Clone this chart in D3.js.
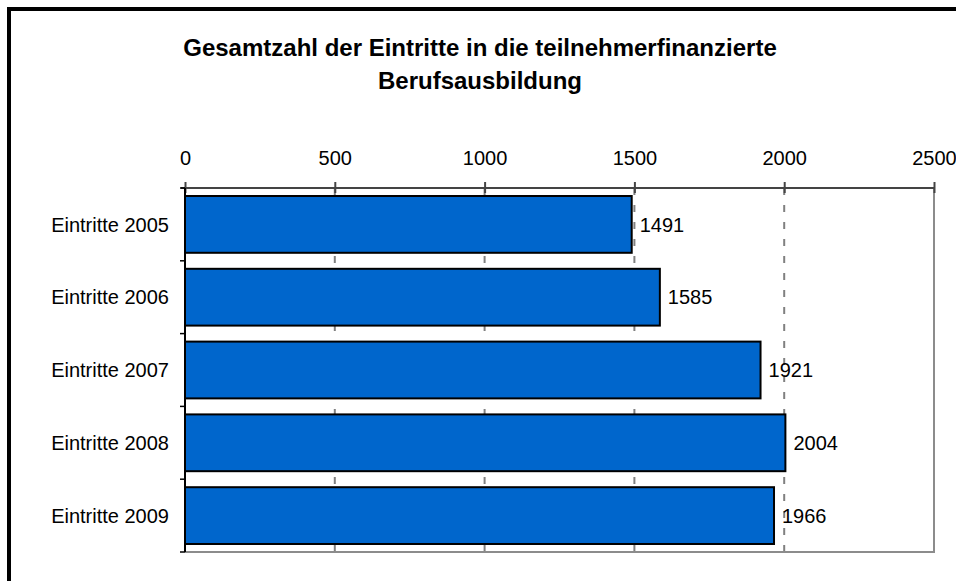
<!doctype html>
<html lang="de">
<head>
<meta charset="utf-8">
<title>Eintritte</title>
<script src="https://d3js.org/d3.v7.min.js"></script>
<style>
  body { margin: 0; background: #fff; }
  text { font-family: "Liberation Sans", Arial, sans-serif; }
</style>
</head>
<body>
<div id="main"></div>
<script>
const categories = ['Eintritte 2005', 'Eintritte 2006', 'Eintritte 2007', 'Eintritte 2008', 'Eintritte 2009']
const values = [1491, 1585, 1921, 2004, 1966]
const xTicks = [0, 500, 1000, 1500, 2000, 2500]
const titleLines = ['Gesamtzahl der Eintritte in die teilnehmerfinanzierte', 'Berufsausbildung']

const W = 956, H = 581
const plot = {left: 185, right: 934, top: 188, bottom: 552}

const svg = d3.select('#main').append('svg')
  .attr('width', W).attr('height', H)

// outer frame (only left + top edges visible)
svg.append('path')
  .attr('d', `M9,${H} L9,9 L${W},9`)
  .attr('fill', 'none').attr('stroke', '#000').attr('stroke-width', 4)

svg.append('text')
  .attr('x', 480).attr('text-anchor', 'middle')
  .style('font-size', '24px').style('font-weight', 'bold')
  .selectAll('tspan').data(titleLines).enter().append('tspan')
  .attr('x', 480).attr('y', (d, i) => 56 + i * 33)
  .text(d => d)

const x = d3.scaleLinear().domain([0, 2500]).range([plot.left, plot.right])
const y = d3.scaleBand().domain(categories).range([plot.top, plot.bottom])
  .paddingInner(0.22).paddingOuter(0.11)

// dashed gridlines
svg.append('g').selectAll('line').data(xTicks.slice(1, -1)).enter().append('line')
  .attr('x1', d => x(d)).attr('x2', d => x(d))
  .attr('y1', plot.top).attr('y2', plot.bottom)
  .attr('stroke', '#808080').attr('stroke-width', 2)
  .attr('stroke-dasharray', '7,10')

// plot border right/bottom gray
svg.append('path')
  .attr('d', `M${plot.left},${plot.bottom} L${plot.right},${plot.bottom} L${plot.right},${plot.top}`)
  .attr('fill', 'none').attr('stroke', '#8c8c8c').attr('stroke-width', 2)

// bars
svg.append('g').selectAll('rect').data(values).enter().append('rect')
  .attr('x', x(0))
  .attr('y', (d, i) => y(categories[i]))
  .attr('width', d => x(d) - x(0))
  .attr('height', y.bandwidth())
  .attr('fill', '#0066cc')
  .attr('stroke', '#000').attr('stroke-width', 2)

// value labels
svg.append('g').selectAll('text').data(values).enter().append('text')
  .attr('x', d => x(d) + 8)
  .attr('y', (d, i) => y(categories[i]) + y.bandwidth() / 2)
  .attr('dy', '0.36em')
  .style('font-size', '20px').attr('fill', '#000')
  .text(d => d)

// top axis
const xAxis = d3.axisTop(x).tickValues(xTicks).tickSize(6).tickFormat(d3.format('d'))
const gx = svg.append('g').attr('transform', `translate(0,${plot.top})`).call(xAxis)
gx.select('.domain').attr('d', `M${plot.left - 4},0H${plot.right}`).attr('stroke', '#444').attr('stroke-width', 2)
gx.selectAll('.tick line').attr('y1', 5).attr('y2', -6).attr('stroke', '#444').attr('stroke-width', 2)
gx.selectAll('.tick text').attr('y', -23).attr('dy', 0).style('font-size', '20px').attr('fill', '#000')
  .style('font-family', '"Liberation Sans", Arial, sans-serif')

// left axis: ticks at band boundaries
const bounds = d3.range(categories.length + 1).map(i => plot.top + i * y.step())
svg.append('g').selectAll('line').data(bounds).enter().append('line')
  .attr('x1', plot.left - 5).attr('x2', plot.left)
  .attr('y1', d => d).attr('y2', d => d)
  .attr('stroke', '#000').attr('stroke-width', 1.5)
svg.append('line')
  .attr('x1', plot.left).attr('x2', plot.left)
  .attr('y1', plot.top).attr('y2', plot.bottom)
  .attr('stroke', '#000').attr('stroke-width', 2)

svg.append('g').selectAll('text').data(categories).enter().append('text')
  .attr('x', 169)
  .attr('y', d => y(d) + y.bandwidth() / 2)
  .attr('dy', '0.36em')
  .attr('text-anchor', 'end')
  .style('font-size', '20px').attr('fill', '#000')
  .text(d => d)
</script>
</body>
</html>
